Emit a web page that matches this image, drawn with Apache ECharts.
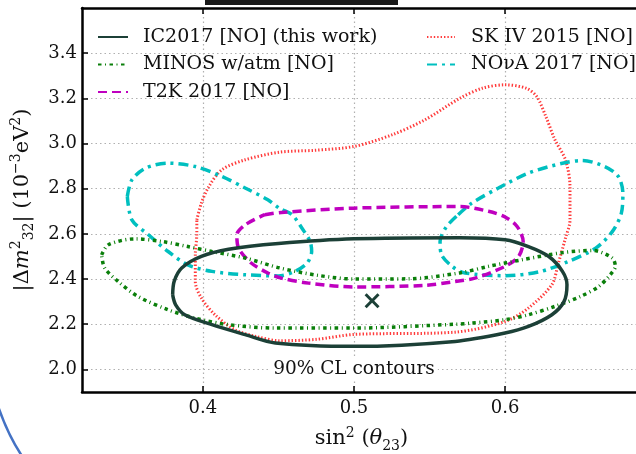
<!DOCTYPE html>
<html>
<head>
<meta charset="utf-8">
<script src="https://cdn.jsdelivr.net/npm/echarts@6/dist/echarts.min.js"></script>
<style>
html,body{margin:0;padding:0;background:#fff;}
#c{width:636px;height:454px;}
</style>
</head>
<body>
<div id="c"></div>
<script>
// ---- data ----
var xTicks = [0.4, 0.5, 0.6];
var yTicks = [2.0, 2.2, 2.4, 2.6, 2.8, 3.0, 3.2, 3.4];
var seriesNames = ['IC2017 [NO] (this work)', 'MINOS w/atm [NO]', 'T2K 2017 [NO]', 'SK IV 2015 [NO]', 'NO\u03BDA 2017 [NO]'];

var ic2017 = [[0.380,2.33],[0.381,2.39],[0.386,2.449],[0.399,2.50],[0.417,2.532],[0.450,2.557],[0.5,2.578],[0.570,2.583],[0.6,2.574],[0.6155,2.544],[0.629,2.50],[0.638,2.434],[0.641,2.375],[0.639,2.30],[0.631,2.242],[0.6155,2.19],[0.6,2.161],[0.567,2.124],[0.5,2.102],[0.448,2.117],[0.428,2.154],[0.406,2.198],[0.388,2.242],[0.382,2.286],[0.380,2.33]];
var bestFit = [[0.512, 2.304]];

var minos = [[0.333,2.507],[0.3375,2.552],[0.355,2.578],[0.373,2.566],[0.390,2.544],[0.406,2.522],[0.428,2.493],[0.451,2.449],[0.4765,2.416],[0.5,2.40],[0.536,2.401],[0.570,2.427],[0.589,2.456],[0.611,2.485],[0.638,2.517],[0.658,2.527],[0.671,2.493],[0.673,2.456],[0.6696,2.419],[0.662,2.367],[0.650,2.323],[0.633,2.279],[0.6155,2.242],[0.6,2.22],[0.578,2.205],[0.567,2.20],[0.5,2.183],[0.448,2.183],[0.417,2.198],[0.395,2.227],[0.377,2.264],[0.357,2.323],[0.344,2.389],[0.335,2.449],[0.333,2.507]];

var t2k = [[0.441,2.685],[0.452,2.695],[0.5,2.714],[0.570,2.721],[0.589,2.70],[0.6,2.675],[0.608,2.633],[0.612,2.566],[0.609,2.50],[0.6,2.456],[0.580,2.404],[0.567,2.389],[0.547,2.372],[0.5,2.365],[0.470,2.382],[0.452,2.404],[0.443,2.427],[0.432,2.471],[0.4236,2.537],[0.4225,2.596],[0.428,2.64],[0.441,2.685]];

var sk = [[0.396,2.662],[0.399,2.736],[0.404,2.81],[0.4126,2.884],[0.428,2.928],[0.451,2.962],[0.474,2.970],[0.5,2.987],[0.525,3.038],[0.547,3.105],[0.570,3.20],[0.585,3.245],[0.6,3.26],[0.614,3.245],[0.621,3.208],[0.627,3.12],[0.633,3.017],[0.640,2.928],[0.643,2.81],[0.643,2.66],[0.640,2.581],[0.635,2.463],[0.631,2.375],[0.6155,2.272],[0.6,2.212],[0.567,2.165],[0.5,2.155],[0.475,2.133],[0.451,2.127],[0.435,2.146],[0.421,2.176],[0.408,2.242],[0.399,2.316],[0.395,2.389],[0.395,2.507],[0.396,2.60],[0.396,2.662]];

var novaLeft = [[0.350,2.766],[0.353,2.839],[0.362,2.891],[0.377,2.913],[0.395,2.898],[0.4126,2.854],[0.428,2.803],[0.443,2.751],[0.451,2.712],[0.459,2.685],[0.4655,2.626],[0.471,2.566],[0.472,2.522],[0.469,2.471],[0.461,2.434],[0.450,2.414],[0.428,2.419],[0.406,2.434],[0.390,2.463],[0.377,2.522],[0.364,2.596],[0.353,2.662],[0.350,2.766]];
var novaRight = [[0.569,2.685],[0.578,2.736],[0.5956,2.803],[0.6155,2.869],[0.638,2.913],[0.651,2.925],[0.666,2.898],[0.675,2.854],[0.678,2.78],[0.677,2.692],[0.671,2.61],[0.660,2.537],[0.642,2.478],[0.622,2.431],[0.6,2.415],[0.5735,2.427],[0.565,2.456],[0.558,2.507],[0.557,2.566],[0.561,2.63],[0.569,2.685]];

var annotation = [[0.5, 2.0]];
var annotationText = '90% CL contours';

// ---- chart ----
var FONT = '"DejaVu Serif", serif';
var TXT = '#111';
var chart = echarts.init(document.getElementById('c'), null, {renderer: 'canvas'});

function lineSeries(name, data, color, width, type, z) {
  return {
    name: name, type: 'line', data: data, symbol: 'none', smooth: 0.3,
    lineStyle: {color: color, width: width, type: type, cap: 'butt'},
    itemStyle: {color: color}, z: z, animation: false, clip: true
  };
}

var richName = {
  n: {fontFamily: FONT, fontSize: 21, color: TXT, lineHeight: 30, verticalAlign: 'middle'},
  i: {fontFamily: FONT, fontSize: 21, fontStyle: 'italic', color: TXT, lineHeight: 30, verticalAlign: 'middle'},
  sup: {fontFamily: FONT, fontSize: 14, color: TXT, lineHeight: 30, verticalAlign: 'top', padding: [2, 0, 0, 0]},
  sub: {fontFamily: FONT, fontSize: 14, color: TXT, lineHeight: 30, verticalAlign: 'bottom', padding: [0, 0, 1, 0]}
};

var option = {
  animation: false,
  grid: {left: 82, top: 8, width: 559, height: 384, containLabel: false, outerBoundsMode: 'none'},
  xAxis: [{
    type: 'value', min: 0.32, max: 0.69, position: 'bottom',
    name: '{n|sin}{sup|2}{n| (}{i|\u03B8}{sub|23}{n|)}', nameLocation: 'middle', nameGap: 32,
    nameTextStyle: {fontFamily: FONT, fontSize: 21, color: TXT, rich: richName},
    axisLine: {show: true, onZero: false, lineStyle: {color: '#000', width: 2.5}},
    axisTick: {show: true, inside: true, length: 6, customValues: xTicks, lineStyle: {color: '#000', width: 1.5}},
    axisLabel: {show: true, customValues: xTicks, margin: 7, fontFamily: FONT, fontSize: 18, color: TXT,
      formatter: function (v) { return v.toFixed(1); }},
    splitLine: {show: true, lineStyle: {color: '#b0b0b0', width: 1.2, type: [1.5, 3]}}
  }, {
    type: 'value', min: 0.32, max: 0.69, position: 'top',
    axisLine: {show: true, onZero: false, lineStyle: {color: '#000', width: 2.5}},
    axisTick: {show: true, inside: true, length: 6, customValues: xTicks, lineStyle: {color: '#000', width: 1.5}},
    axisLabel: {show: false}, splitLine: {show: false}
  }],
  yAxis: [{
    type: 'value', min: 1.9, max: 3.6, position: 'left',
    name: '{n|\u007C\u0394}{i|m}{sup|2}{sub|32}{n|\u007C (10}{sup|\u22123}{n|eV}{sup|2}{n|)}', nameLocation: 'middle', nameGap: 37,
    nameTextStyle: {fontFamily: FONT, fontSize: 21, color: TXT, rich: richName},
    axisLine: {show: true, onZero: false, lineStyle: {color: '#000', width: 2.5}},
    axisTick: {show: true, inside: true, length: 6, customValues: yTicks, lineStyle: {color: '#000', width: 1.5}},
    axisLabel: {show: true, customValues: yTicks, margin: 5, fontFamily: FONT, fontSize: 18, color: TXT,
      formatter: function (v) { return v.toFixed(1); }},
    splitLine: {show: true, lineStyle: {color: '#b0b0b0', width: 1.2, type: [1.5, 3]}}
  }],
  legend: [{
    data: [seriesNames[0], seriesNames[1], seriesNames[2]],
    orient: 'vertical', left: 92, top: 22, itemWidth: 30, itemHeight: 14, itemGap: 7.5,
    itemStyle: {opacity: 0},
    textStyle: {fontFamily: FONT, fontSize: 19, color: TXT, lineHeight: 20, padding: [0, 0, 0, 10]},
    selectedMode: false
  }, {
    data: [seriesNames[3], seriesNames[4]],
    orient: 'vertical', left: 421, top: 22, itemWidth: 28, itemHeight: 14, itemGap: 7.5,
    itemStyle: {opacity: 0},
    textStyle: {fontFamily: FONT, fontSize: 19, color: TXT, lineHeight: 20, padding: [0, 0, 0, 11]},
    selectedMode: false
  }],
  series: [
    lineSeries(seriesNames[3], sk, '#ff3b3b', 3, [1.4, 2], 2),
    lineSeries(seriesNames[4], novaLeft, '#00bfbf', 3.5, [10, 5, 3, 5], 3),
    lineSeries(seriesNames[4], novaRight, '#00bfbf', 3.5, [10, 5, 3, 5], 3),
    lineSeries(seriesNames[2], t2k, '#bf00bf', 3.5, [9, 5], 4),
    lineSeries(seriesNames[1], minos, '#0a7f0a', 3.5, [3.5, 3.5, 1, 3.5], 5),
    lineSeries(seriesNames[0], ic2017, '#1c4037', 3.5, 'solid', 6),
    {
      type: 'scatter', data: bestFit, z: 7, silent: true,
      symbol: 'path://M0 14 L14 0 L50 36 L86 0 L100 14 L64 50 L100 86 L86 100 L50 64 L14 100 L0 86 L36 50 Z',
      symbolSize: 15, itemStyle: {color: '#1c4037', opacity: 1}
    },
    {
      type: 'scatter', data: annotation, z: 8, silent: true, symbolSize: 0,
      itemStyle: {opacity: 1},
      label: {show: true, position: 'inside', formatter: annotationText, fontFamily: FONT, fontSize: 18.5,
        color: TXT, backgroundColor: '#fff', padding: [1, 3, 1, 3]}
    }
  ],
  graphic: [
    {type: 'bezierCurve', silent: true, z: 100,
     shape: {x1: -2, y1: 406, cpx1: 8, cpy1: 435, x2: 22, y2: 456},
     style: {stroke: '#4472c4', lineWidth: 2.5, fill: null}},
    {type: 'rect', silent: true, z: 100,
     shape: {x: 205, y: 0, width: 193, height: 5},
     style: {fill: '#1a1a1a'}}
  ]
};
chart.setOption(option);
</script>
</body>
</html>
